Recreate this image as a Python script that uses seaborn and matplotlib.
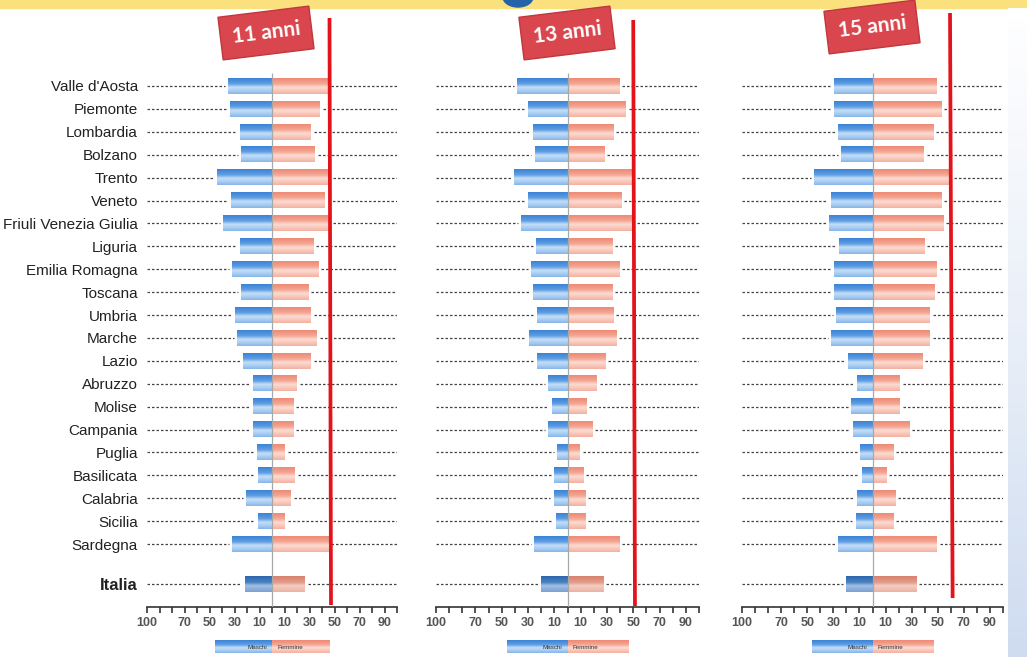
import matplotlib
matplotlib.use("Agg")
import matplotlib.pyplot as plt
import numpy as np
import pandas as pd
import seaborn as sns
from matplotlib.colors import LinearSegmentedColormap
from matplotlib.patches import Ellipse, Rectangle

# ================================================================
# Data
# ================================================================
regions = ["Valle d'Aosta", "Piemonte", "Lombardia", "Bolzano", "Trento", "Veneto",
           "Friuli Venezia Giulia", "Liguria", "Emilia Romagna", "Toscana", "Umbria",
           "Marche", "Lazio", "Abruzzo", "Molise", "Campania", "Puglia", "Basilicata",
           "Calabria", "Sicilia", "Sardegna", "Italia"]
positions = list(range(21)) + [21.75]

maschi_11 = [35, 34, 26, 25, 44, 33, 39, 26, 32, 25, 30, 28, 23, 15, 15, 15, 12, 11, 21, 11, 32, 22]
femmine_11 = [45, 38, 31, 34, 46, 42, 46, 33, 37, 29, 31, 36, 31, 20, 17, 17, 10, 18, 15, 10, 45, 26]

maschi_13 = [38.5, 30, 26.5, 25, 40.5, 30, 35, 24, 27.5, 26.5, 23, 29.5, 23, 14.5, 12, 14.5, 8, 10, 10.5, 9, 25.5, 20]
femmine_13 = [39, 44, 34.5, 27.5, 50, 40.5, 50, 34, 39, 34, 34.5, 37, 28.5, 22, 14, 18.5, 9, 11.5, 13, 13, 39, 27]

maschi_15 = [29.5, 29.5, 26.5, 24, 44.5, 32, 33.5, 26, 29.5, 29.5, 28, 31.5, 19, 12, 16.5, 15, 9.5, 8, 12, 13, 26.5, 20]
femmine_15 = [49, 52.5, 46, 39, 60, 52.5, 54, 39.5, 49, 47, 43.5, 43.5, 38, 20.5, 20.5, 28, 15.5, 10, 17, 15.5, 49, 33.5]

age_labels = ["11 anni", "13 anni", "15 anni"]
tick_values = list(range(-100, 101, 10))
tick_shown = [-100, -70, -50, -30, -10, 10, 30, 50, 70, 90]

# ================================================================
# Layout helpers (pixel based)
# ================================================================
W, H = 1027, 657
ROW_PX = 22.9
Y_TOP, Y_BOT = -1.135, 22.75


def ypx(py):
    return Y_TOP + (py - 60) / ROW_PX


def px_axes(fig, left, top, right, bottom):
    return fig.add_axes([left / W, 1 - bottom / H, (right - left) / W, (bottom - top) / H])


cm_blue = LinearSegmentedColormap.from_list("b", [(0, "#3b83d6"), (0.35, "#5e9de2"), (0.58, "#c4def7"),
                                                  (0.8, "#a8cdf2"), (1, "#85b5e9")])
cm_pink = LinearSegmentedColormap.from_list("p", [(0, "#ef8a75"), (0.35, "#f3a693"), (0.58, "#fcdcd2"),
                                                  (0.8, "#f9c6b9"), (1, "#f3b1a1")])
cm_blue_it = LinearSegmentedColormap.from_list("bi", [(0, "#2d66ad"), (0.4, "#4c82c2"), (0.6, "#a3c0e3"),
                                                      (1, "#7c9fd0")])
cm_pink_it = LinearSegmentedColormap.from_list("pi", [(0, "#d8826f"), (0.4, "#e39c8a"), (0.6, "#f4cdc1"),
                                                      (1, "#eab3a4")])
cm_edge = LinearSegmentedColormap.from_list("e", ["#ffffff", "#e9eff8", "#cfdcf0"])
grad = np.linspace(0, 1, 64).reshape(-1, 1)

sns.set_theme(style="white")
plt.rcParams["font.family"] = ["Liberation Sans", "DejaVu Sans"]

fig = plt.figure(figsize=(W / 100, H / 100), dpi=100)
fig.patch.set_facecolor("white")

# top banner strip + logo fragment + pale right edge
fig.add_artist(Rectangle((0, 1 - 8 / H), 1, 8 / H, transform=fig.transFigure, color="#fbe07e", zorder=0))
fig.add_artist(Ellipse((518 / W, 1 + 3 / H), 30 / W, 20 / H, transform=fig.transFigure, color="#2563a8", zorder=1))
edge_ax = px_axes(fig, 1008, 8, 1027, 657)
edge_ax.imshow(grad, cmap=cm_edge, aspect="auto")
edge_ax.axis("off")

panels = [
    (age_labels[0], maschi_11, femmine_11, (147, 397), ((46.0, ypx(18)), (47.2, ypx(605))), (266, 33)),
    (age_labels[1], maschi_13, femmine_13, (436, 699), ((50.0, ypx(20)), (51.3, ypx(606))), (567, 33)),
    (age_labels[2], maschi_15, femmine_15, (742, 1003), ((59.4, ypx(13)), (61.4, ypx(598))), (872, 27)),
]

for i, (label, maschi, femmine, (left, right), red, box_c) in enumerate(panels):
    ax = px_axes(fig, left, 60, right, 607)
    n = len(positions)
    df = pd.DataFrame({
        "pos": positions * 2,
        "value": [-m for m in maschi] + list(femmine),
        "sesso": ["Maschi"] * n + ["Femmine"] * n,
    })
    sns.barplot(data=df, x="value", y="pos", hue="sesso", orient="y", native_scale=True,
                dodge=False, width=0.68, palette={"Maschi": "#5e9de2", "Femmine": "#f3a693"},
                legend=False, errorbar=None, ax=ax)

    # cylinder-like shading on every bar
    for p in list(ax.patches):
        bb = p.get_bbox()
        x0, x1 = sorted([bb.x0, bb.x1])
        y0, y1 = sorted([bb.y0, bb.y1])
        italia = y0 > 21
        if x0 < 0:
            cmap = cm_blue_it if italia else cm_blue
        else:
            cmap = cm_pink_it if italia else cm_pink
        ax.imshow(grad, cmap=cmap, extent=[x0, x1, y1, y0], aspect="auto", zorder=3,
                  interpolation="bilinear")

    # dotted guide lines, interrupted around the bars
    for pos, m, f in zip(positions, maschi, femmine):
        ax.hlines(pos, -100, -(m + 2.5), colors="#444444", linestyles=(0, (2, 1.6)), lw=0.9, zorder=1)
        ax.hlines(pos, f + 2.5, 100, colors="#444444", linestyles=(0, (2, 1.6)), lw=0.9, zorder=1)

    ax.vlines(0, -0.55, Y_BOT, colors="#a8a8a8", lw=0.9, zorder=4)

    ax.set_xlim(-100, 100)
    ax.set_ylim(Y_BOT, Y_TOP)
    ax.set_xlabel("")
    ax.set_ylabel("")
    ax.set_facecolor("none")
    sns.despine(ax=ax, left=True)
    ax.spines["bottom"].set_color("#333333")
    ax.spines["bottom"].set_linewidth(1.2)

    ax.set_xticks(tick_values)
    ax.set_xticklabels([str(abs(t)) if t in tick_shown else "" for t in tick_values])
    ax.tick_params(axis="x", bottom=True, length=4, width=1.2, color="#333333",
                   labelsize=9, labelcolor="#555555", pad=3)
    for t in ax.get_xticklabels():
        t.set_fontweight("bold")

    if i == 0:
        ax.set_yticks(positions)
        ax.set_yticklabels(regions)
        ax.tick_params(axis="y", left=False, length=0, pad=6.5, labelsize=11, labelcolor="#222222")
        ax.get_yticklabels()[-1].set_fontweight("bold")
        ax.get_yticklabels()[-1].set_fontsize(12)
    else:
        ax.set_yticks([])

    # red reference line
    (xt, yt), (xb, yb) = red
    ax.plot([xt, xb], [yt, yb], color="#e3131b", lw=2.7, clip_on=False, zorder=6,
            solid_capstyle="butt")

    # mini legend under the axis
    ly0, ly1 = ypx(641), ypx(653)
    ax.imshow(grad, cmap=cm_blue, extent=[-46, 0, ly1, ly0], aspect="auto", clip_on=False, zorder=3)
    ax.imshow(grad, cmap=cm_pink, extent=[0, 46, ly1, ly0], aspect="auto", clip_on=False, zorder=3)
    ax.text(-4, (ly0 + ly1) / 2, "Maschi", ha="right", va="center", fontsize=4.5, color="#333333", zorder=4)
    ax.text(4, (ly0 + ly1) / 2, "Femmine", ha="left", va="center", fontsize=4.5, color="#333333", zorder=4)
    ax.set_xlim(-100, 100)
    ax.set_ylim(Y_BOT, Y_TOP)

    # age badge
    fig.text(box_c[0] / W, 1 - box_c[1] / H, label, rotation=7, ha="center", va="center",
             fontsize=15, fontweight="bold", color="white", family=["Lato", "DejaVu Sans"],
             bbox=dict(boxstyle="square,pad=0.55", facecolor="#d9464d", edgecolor="#c0383e", lw=1))

plt.savefig("out.png", dpi=100)
plt.close()
